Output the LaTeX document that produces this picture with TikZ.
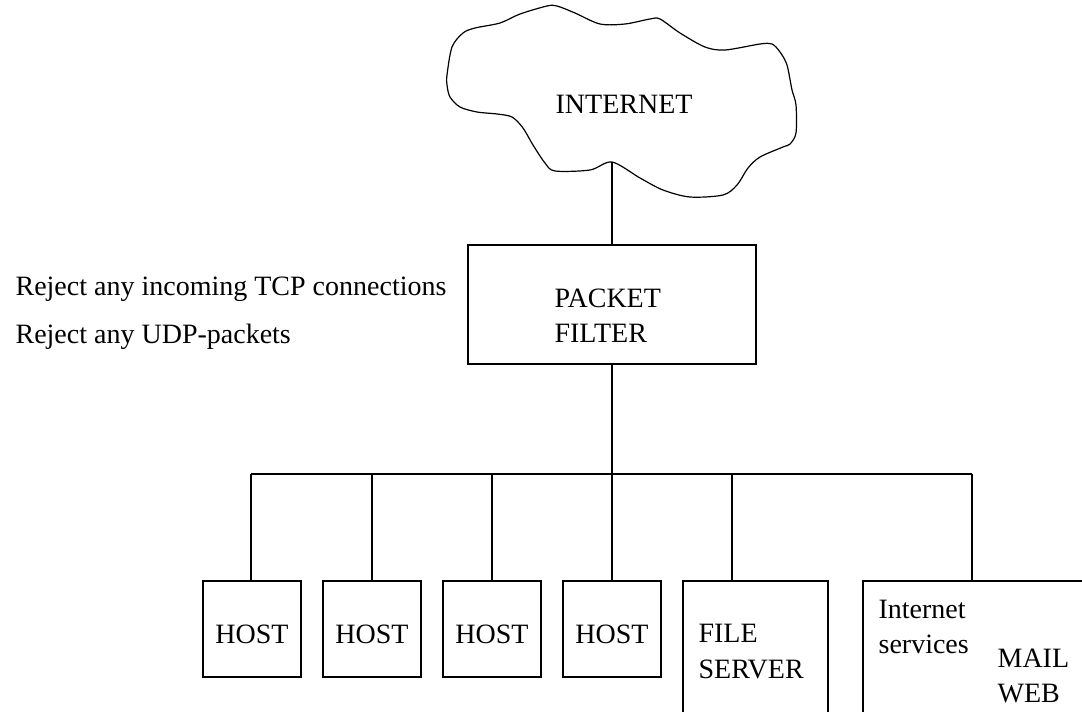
\documentclass[tikz,border=0pt]{standalone}
\usepackage{fontspec}
\setmainfont{Liberation Serif}
\begin{document}
\begin{tikzpicture}[x=1pt,y=-1pt,
  line width=1.2pt,
  every node/.style={font=\fontsize{28}{34}\selectfont},
  hostbox/.style={draw,rectangle,inner sep=0pt,outer sep=0pt,minimum width=98pt,minimum height=96pt,anchor=north west,text height=28pt,text depth=0pt},
  bigbox/.style={draw,rectangle,inner sep=0pt,outer sep=0pt,anchor=north west},
  lbl/.style={inner sep=0pt,anchor=base west}]
\clip (0,0) rectangle (1082,712);
\fill[white] (0,0) rectangle (1082,712);
% cloud
\draw plot[smooth cycle,tension=0.5] coordinates {
(447,75) (452,47) (463,33) (475,28) (500,23) (520,14) (547,6) (557,6) (575,13) (600,24) (625,24) (650,19) (660,19) (680,33) (705,47) (725,50) (760,44) (772,44) (780,52) (787,65) (792,90) (796,105) (796,133) (790,144) (783,147) (760,157) (748,168) (737,185) (723,195) (690,197) (663,190) (640,178) (612,162) (590,170) (555,171) (545,163) (533,145) (523,128) (512,117) (497,114) (477,112) (460,107) (450,97) (447,85)};
\coordinate (cloudbot) at (612,162);
\node[lbl] (inet) at (555,113) {INTERNET};
% packet filter
\node[bigbox,minimum width=288pt,minimum height=119pt] (pf) at (468,245) {};
\node[lbl] (pf1) at (554,307) {PACKET};
\node[lbl] (pf2) at (554,342) {FILTER};
\node[lbl] (r1) at (15,295) {Reject any incoming TCP connections};
\node[lbl] (r2) at (15,343) {Reject any UDP-packets};
% hosts
\node[hostbox] (h1) at (203,581) {HOST};
\node[hostbox] (h2) at (323,581) {HOST};
\node[hostbox] (h3) at (443,581) {HOST};
\node[hostbox] (h4) at (563,581) {HOST};
\node[bigbox,minimum width=145pt,minimum height=160pt] (fs) at (683,581) {};
\node[lbl] (fs1) at (698,642) {FILE};
\node[lbl] (fs2) at (698,678) {SERVER};
\node[bigbox,minimum width=260pt,minimum height=160pt] (svc) at (863,581) {};
\node[lbl] (s1) at (878,618) {Internet};
\node[lbl] (s2) at (878,653) {services};
\node[lbl] (s3) at (997,667) {MAIL};
\node[lbl] (s4) at (997,702) {WEB};
% connectors
\coordinate (busL) at (251,474);
\coordinate (busM) at (612,474);
\coordinate (busR) at (972,474);
\coordinate (fsTop) at (732,581);
\coordinate (svcTop) at (972,581);
\draw (cloudbot) -- (pf.north);
\draw (pf.south) -- (busM);
\draw (busL) -- (busR);
\draw (busL) -- (busL |- h1.north);
\draw (h2.north |- busL) -- (h2.north);
\draw (h3.north |- busL) -- (h3.north);
\draw (h4.north |- busL) -- (h4.north);
\draw (fsTop |- busL) -- (fsTop);
\draw (busR) -- (svcTop);
\end{tikzpicture}
\end{document}
